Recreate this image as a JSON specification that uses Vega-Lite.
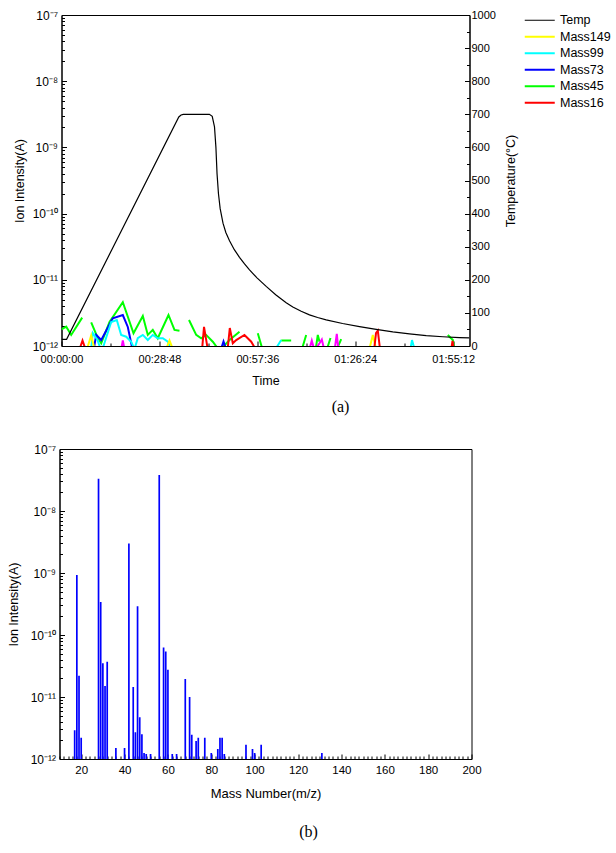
{
  "$schema": "https://vega.github.io/schema/vega-lite/v6.json",
  "padding": {"left": 6.5, "top": 8, "right": 5, "bottom": 5},
  "bounds": "flush",
  "center": true,
  "spacing": 103,
  "resolve": {"legend": {"color": "independent"}},
  "config": {
    "font": "Liberation Sans",
    "view": {"stroke": "black", "strokeWidth": 1},
    "axis": {"grid": false, "domainColor": "black", "tickColor": "black", "labelColor": "black", "titleColor": "black", "labelFont": "Liberation Sans", "titleFont": "Liberation Sans", "labelFontSize": 11, "titleFontSize": 12.5, "titleFontWeight": "normal", "labelOverlap": false, "labelFlush": false, "domainWidth": 1, "tickWidth": 1}
  },
  "datasets": {
    "masses": [
      {"s": "Mass45", "t": 0, "v": 1.79e-12}, {"s": "Mass45", "t": 83, "v": 1.96e-12}, {"s": "Mass45", "t": 171, "v": 1.47e-12}, {"s": "Mass45", "t": 365, "v": 2.68e-12}, {"s": "Mass45", "t": 430, "v": null},
      {"s": "Mass45", "t": 524, "v": 2.28e-12}, {"s": "Mass45", "t": 630, "v": 1.38e-12}, {"s": "Mass45", "t": 701, "v": 1.1e-12}, {"s": "Mass45", "t": 847, "v": 2.3e-12}, {"s": "Mass45", "t": 1082, "v": 4.6e-12}, {"s": "Mass45", "t": 1271, "v": 1.56e-12}, {"s": "Mass45", "t": 1435, "v": 2.84e-12}, {"s": "Mass45", "t": 1523, "v": 1.47e-12}, {"s": "Mass45", "t": 1611, "v": 1.75e-12}, {"s": "Mass45", "t": 1699, "v": 1.31e-12}, {"s": "Mass45", "t": 1888, "v": 2.94e-12}, {"s": "Mass45", "t": 1994, "v": 1.75e-12}, {"s": "Mass45", "t": 2082, "v": 1.7e-12}, {"s": "Mass45", "t": 2150, "v": null},
      {"s": "Mass45", "t": 2250, "v": 2.47e-12}, {"s": "Mass45", "t": 2377, "v": 1.47e-12}, {"s": "Mass45", "t": 2465, "v": 1.31e-12}, {"s": "Mass45", "t": 2553, "v": 1.47e-12}, {"s": "Mass45", "t": 2670, "v": 1.16e-12}, {"s": "Mass45", "t": 2788, "v": 0.85e-12}, {"s": "Mass45", "t": 2965, "v": 1.23e-12}, {"s": "Mass45", "t": 3141, "v": 1.64e-12}, {"s": "Mass45", "t": 3200, "v": null},
      {"s": "Mass45", "t": 3464, "v": 1.56e-12}, {"s": "Mass45", "t": 3553, "v": 0.85e-12}, {"s": "Mass45", "t": 3700, "v": null},
      {"s": "Mass45", "t": 3877, "v": 1.21e-12}, {"s": "Mass45", "t": 4053, "v": 1.21e-12}, {"s": "Mass45", "t": 4150, "v": null},
      {"s": "Mass45", "t": 4235, "v": 0.85e-12}, {"s": "Mass45", "t": 4318, "v": 1.47e-12}, {"s": "Mass45", "t": 4400, "v": null},
      {"s": "Mass45", "t": 4482, "v": 0.85e-12}, {"s": "Mass45", "t": 4523, "v": 1.47e-12}, {"s": "Mass45", "t": 4553, "v": 1.16e-12}, {"s": "Mass45", "t": 4600, "v": null},
      {"s": "Mass45", "t": 4676, "v": 0.85e-12}, {"s": "Mass45", "t": 4747, "v": 1.32e-12}, {"s": "Mass45", "t": 4800, "v": null},
      {"s": "Mass45", "t": 4847, "v": 0.85e-12}, {"s": "Mass45", "t": 4936, "v": 1.27e-12}, {"s": "Mass45", "t": 5000, "v": null},
      {"s": "Mass45", "t": 6817, "v": 1.47e-12}, {"s": "Mass45", "t": 6906, "v": 1.23e-12}, {"s": "Mass45", "t": 6935, "v": 0.85e-12},

      {"s": "Mass73", "t": 565, "v": 0.85e-12}, {"s": "Mass73", "t": 612, "v": 1.47e-12}, {"s": "Mass73", "t": 701, "v": 1.23e-12}, {"s": "Mass73", "t": 905, "v": 2.62e-12}, {"s": "Mass73", "t": 1082, "v": 2.94e-12}, {"s": "Mass73", "t": 1170, "v": 1.94e-12}, {"s": "Mass73", "t": 1258, "v": 0.85e-12}, {"s": "Mass73", "t": 1350, "v": null},
      {"s": "Mass73", "t": 2806, "v": 0.85e-12}, {"s": "Mass73", "t": 2859, "v": 1.17e-12}, {"s": "Mass73", "t": 2912, "v": 0.85e-12},

      {"s": "Mass99", "t": 520, "v": 0.85e-12}, {"s": "Mass99", "t": 552, "v": 1.57e-12}, {"s": "Mass99", "t": 635, "v": 1.23e-12}, {"s": "Mass99", "t": 701, "v": 0.85e-12}, {"s": "Mass99", "t": 741, "v": 1.0e-12}, {"s": "Mass99", "t": 877, "v": 2.3e-12}, {"s": "Mass99", "t": 976, "v": 2.47e-12}, {"s": "Mass99", "t": 1053, "v": 1.47e-12}, {"s": "Mass99", "t": 1142, "v": 1.38e-12}, {"s": "Mass99", "t": 1230, "v": 1.16e-12}, {"s": "Mass99", "t": 1288, "v": 0.9e-12}, {"s": "Mass99", "t": 1346, "v": 1.31e-12}, {"s": "Mass99", "t": 1435, "v": 1.47e-12}, {"s": "Mass99", "t": 1523, "v": 1.23e-12}, {"s": "Mass99", "t": 1611, "v": 1.47e-12}, {"s": "Mass99", "t": 1699, "v": 1.31e-12}, {"s": "Mass99", "t": 1788, "v": 1.31e-12}, {"s": "Mass99", "t": 1876, "v": 1.16e-12}, {"s": "Mass99", "t": 1941, "v": 0.85e-12}, {"s": "Mass99", "t": 2100, "v": null},
      {"s": "Mass99", "t": 3759, "v": 0.85e-12}, {"s": "Mass99", "t": 3877, "v": 1.23e-12}, {"s": "Mass99", "t": 3950, "v": null},
      {"s": "Mass99", "t": 6153, "v": 0.85e-12}, {"s": "Mass99", "t": 6185, "v": 1.23e-12}, {"s": "Mass99", "t": 6238, "v": 0.85e-12},

      {"s": "Mass149", "t": 441, "v": 0.85e-12}, {"s": "Mass149", "t": 524, "v": 1.44e-12}, {"s": "Mass149", "t": 591, "v": 0.85e-12}, {"s": "Mass149", "t": 700, "v": null},
      {"s": "Mass149", "t": 1835, "v": 0.85e-12}, {"s": "Mass149", "t": 1906, "v": 1.21e-12}, {"s": "Mass149", "t": 1976, "v": 0.85e-12}, {"s": "Mass149", "t": 2100, "v": null},
      {"s": "Mass149", "t": 5426, "v": 0.85e-12}, {"s": "Mass149", "t": 5494, "v": 1.47e-12}, {"s": "Mass149", "t": 5559, "v": 0.85e-12},

      {"s": "Mass16", "t": 309, "v": 0.85e-12}, {"s": "Mass16", "t": 371, "v": 1.21e-12}, {"s": "Mass16", "t": 432, "v": 0.85e-12}, {"s": "Mass16", "t": 500, "v": null},
      {"s": "Mass16", "t": 2479, "v": 0.85e-12}, {"s": "Mass16", "t": 2515, "v": 1.94e-12}, {"s": "Mass16", "t": 2585, "v": 0.85e-12}, {"s": "Mass16", "t": 2700, "v": null},
      {"s": "Mass16", "t": 2929, "v": 0.85e-12}, {"s": "Mass16", "t": 2970, "v": 1.87e-12}, {"s": "Mass16", "t": 3023, "v": 1.1e-12}, {"s": "Mass16", "t": 3083, "v": 1.23e-12}, {"s": "Mass16", "t": 3229, "v": 1.47e-12}, {"s": "Mass16", "t": 3348, "v": 1.16e-12}, {"s": "Mass16", "t": 3441, "v": 0.85e-12}, {"s": "Mass16", "t": 3500, "v": null},
      {"s": "Mass16", "t": 5515, "v": 0.85e-12}, {"s": "Mass16", "t": 5550, "v": 1.57e-12}, {"s": "Mass16", "t": 5582, "v": 1.71e-12}, {"s": "Mass16", "t": 5624, "v": 0.85e-12}, {"s": "Mass16", "t": 5700, "v": null},
      {"s": "Mass16", "t": 6874, "v": 0.85e-12}, {"s": "Mass16", "t": 6900, "v": 1.19e-12}, {"s": "Mass16", "t": 6926, "v": 0.85e-12},

      {"s": "Other", "t": 1050, "v": 0.85e-12}, {"s": "Other", "t": 1082, "v": 1.21e-12}, {"s": "Other", "t": 1117, "v": 0.85e-12}, {"s": "Other", "t": 1200, "v": null},
      {"s": "Other", "t": 4368, "v": 0.85e-12}, {"s": "Other", "t": 4417, "v": 1.21e-12}, {"s": "Other", "t": 4465, "v": 0.85e-12}, {"s": "Other", "t": 4553, "v": 1.1e-12}, {"s": "Other", "t": 4594, "v": 1.25e-12}, {"s": "Other", "t": 4641, "v": 0.85e-12}, {"s": "Other", "t": 4818, "v": 0.85e-12}, {"s": "Other", "t": 4858, "v": 1.52e-12}, {"s": "Other", "t": 4888, "v": 0.85e-12}
    ],
    "temp": [
      {"s": "Temp", "t": 0, "temp": 20}, {"s": "Temp", "t": 90, "temp": 20}, {"s": "Temp", "t": 2070, "temp": 692}, {"s": "Temp", "t": 2110, "temp": 698}, {"s": "Temp", "t": 2150, "temp": 700}, {"s": "Temp", "t": 2610, "temp": 700}, {"s": "Temp", "t": 2660, "temp": 694}, {"s": "Temp", "t": 2700, "temp": 662}, {"s": "Temp", "t": 2725, "temp": 600}, {"s": "Temp", "t": 2745, "temp": 520}, {"s": "Temp", "t": 2770, "temp": 460}, {"s": "Temp", "t": 2800, "temp": 415}, {"s": "Temp", "t": 2850, "temp": 371}, {"s": "Temp", "t": 2900, "temp": 343}, {"s": "Temp", "t": 2965, "temp": 318}, {"s": "Temp", "t": 3050, "temp": 291}, {"s": "Temp", "t": 3141, "temp": 268}, {"s": "Temp", "t": 3230, "temp": 248}, {"s": "Temp", "t": 3318, "temp": 230}, {"s": "Temp", "t": 3450, "temp": 206}, {"s": "Temp", "t": 3612, "temp": 180}, {"s": "Temp", "t": 3780, "temp": 155}, {"s": "Temp", "t": 3965, "temp": 131}, {"s": "Temp", "t": 4082, "temp": 118}, {"s": "Temp", "t": 4230, "temp": 105}, {"s": "Temp", "t": 4376, "temp": 94}, {"s": "Temp", "t": 4520, "temp": 86}, {"s": "Temp", "t": 4671, "temp": 79}, {"s": "Temp", "t": 4960, "temp": 68}, {"s": "Temp", "t": 5259, "temp": 58.5}, {"s": "Temp", "t": 5553, "temp": 50}, {"s": "Temp", "t": 5847, "temp": 42.5}, {"s": "Temp", "t": 6140, "temp": 36.5}, {"s": "Temp", "t": 6436, "temp": 31.5}, {"s": "Temp", "t": 6730, "temp": 28}, {"s": "Temp", "t": 7023, "temp": 25.5}, {"s": "Temp", "t": 7200, "temp": 24.5}
    ],
    "spectrum": [
      {"m": 17, "v": 2.9e-12}, {"m": 18, "v": 9.3e-10}, {"m": 19, "v": 2.2e-11}, {"m": 20, "v": 2.2e-12},
      {"m": 28, "v": 3.3e-8}, {"m": 29, "v": 3.4e-10}, {"m": 30, "v": 3.5e-11}, {"m": 31, "v": 1.5e-11}, {"m": 32, "v": 3.7e-11},
      {"m": 36, "v": 1.5e-12}, {"m": 40, "v": 1.5e-12}, {"m": 42, "v": 3.0e-9}, {"m": 44, "v": 1.45e-11}, {"m": 45, "v": 2.7e-12}, {"m": 46, "v": 2.9e-10}, {"m": 47, "v": 4.7e-12}, {"m": 48, "v": 2.5e-12}, {"m": 49, "v": 1.25e-12}, {"m": 50, "v": 1.2e-12}, {"m": 52, "v": 1.2e-12},
      {"m": 56, "v": 3.8e-8}, {"m": 58, "v": 6.3e-11}, {"m": 59, "v": 5.4e-11}, {"m": 60, "v": 2.75e-11}, {"m": 62, "v": 1.2e-12}, {"m": 64, "v": 1.2e-12},
      {"m": 68, "v": 1.95e-11}, {"m": 70, "v": 1.0e-11}, {"m": 71, "v": 2.45e-12}, {"m": 73, "v": 1.95e-12}, {"m": 74, "v": 2.2e-12}, {"m": 77, "v": 2.2e-12}, {"m": 80, "v": 1.25e-12},
      {"m": 83, "v": 1.45e-12}, {"m": 84, "v": 2.2e-12}, {"m": 85, "v": 2.2e-12}, {"m": 86, "v": 1.2e-12},
      {"m": 96, "v": 1.7e-12}, {"m": 99, "v": 1.45e-12}, {"m": 100, "v": 1.25e-12}, {"m": 103, "v": 1.7e-12}, {"m": 131, "v": 1.25e-12}
    ]
  },
  "vconcat": [
    {
      "width": 408,
      "height": 331,
      "title": {"text": "(a)", "orient": "bottom", "anchor": "middle", "frame": "group", "dx": 75, "offset": 12, "font": "Liberation Serif", "fontSize": 16, "fontWeight": "normal", "color": "black"},
      "layer": [
        {
          "data": {"name": "masses"},
          "mark": {"type": "line", "strokeWidth": 2, "clip": true},
          "encoding": {
            "x": {"field": "t", "type": "quantitative", "scale": {"domain": [0, 7200], "nice": false, "zero": false},
              "axis": {"title": "Time", "values": [0, 864, 1728, 2592, 3456, 4320, 5184, 6048, 6912],
                "labelExpr": "datum.value % 1728 == 0 ? utcFormat(datum.value * 1000, '%H:%M:%S') : ''",
                "tickSize": {"condition": {"test": "datum.value % 1728 == 0", "value": -5}, "value": -3},
                "labelPadding": 12.5, "titlePadding": 8}},
            "y": {"field": "v", "type": "quantitative", "scale": {"type": "log", "domain": [1e-12, 1e-7], "nice": false},
              "axis": {"title": "Ion Intensity(A)", "orient": "left", "labelFontSize": 12,
                "values": [1e-12, 2e-12, 3e-12, 4e-12, 5e-12, 6e-12, 7e-12, 8e-12, 9e-12, 1e-11, 2e-11, 3e-11, 4e-11, 5e-11, 6e-11, 7e-11, 8e-11, 9e-11, 1e-10, 2e-10, 3e-10, 4e-10, 5e-10, 6e-10, 7e-10, 8e-10, 9e-10, 1e-9, 2e-9, 3e-9, 4e-9, 5e-9, 6e-9, 7e-9, 8e-9, 9e-9, 1e-8, 2e-8, 3e-8, 4e-8, 5e-8, 6e-8, 7e-8, 8e-8, 9e-8, 1e-7],
                "labelExpr": "abs(log(datum.value)/LN10 - round(log(datum.value)/LN10)) > 0.01 ? '' : ['10⁻¹²','10⁻¹¹','10⁻¹⁰','10⁻⁹','10⁻⁸','10⁻⁷'][round(log(datum.value)/LN10) + 12]",
                "tickSize": {"condition": {"test": "abs(log(datum.value)/LN10 - round(log(datum.value)/LN10)) < 0.01", "value": -5}, "value": -3},
                "labelPadding": 9, "titlePadding": 6}},
            "color": {"field": "s", "type": "nominal",
              "scale": {"domain": ["Temp", "Mass149", "Mass99", "Mass73", "Mass45", "Mass16", "Other"], "range": ["#000000", "#ffff00", "#00ffff", "#0000ff", "#00ff00", "#ff0000", "#ff00ff"]},
              "legend": {"orient": "none", "legendX": 472, "legendY": -1, "title": null, "padding": 0,
                "values": ["Temp", "Mass149", "Mass99", "Mass73", "Mass45", "Mass16"],
                "symbolType": "M-3,0L3,0", "symbolSize": 100, "symbolStrokeWidth": 2, "labelOffset": 14, "rowPadding": 3.5,
                "labelFontSize": 12.5, "labelFont": "Liberation Sans", "labelColor": "black",
                "encode": {"symbols": {"update": {"strokeWidth": {"signal": "datum.value === 'Temp' ? 1 : 2"}}}}}}
          }
        },
        {
          "data": {"name": "temp"},
          "mark": {"type": "line", "strokeWidth": 1.2, "clip": true},
          "encoding": {
            "x": {"field": "t", "type": "quantitative"},
            "y": {"field": "temp", "type": "quantitative", "scale": {"domain": [0, 1000], "nice": false, "zero": false},
              "axis": {"title": "Temperature(°C)", "orient": "right", "titleAngle": 270, "format": "d",
                "values": [0, 50, 100, 150, 200, 250, 300, 350, 400, 450, 500, 550, 600, 650, 700, 750, 800, 850, 900, 950, 1000],
                "labelExpr": "datum.value % 100 == 0 ? datum.label : ''",
                "tickSize": {"condition": {"test": "datum.value % 100 == 0", "value": -5}, "value": -3},
                "labelPadding": 6.5, "titlePadding": 22}},
            "color": {"field": "s", "type": "nominal"}
          }
        }
      ],
      "resolve": {"scale": {"y": "independent"}}
    },
    {
      "width": 412,
      "height": 310,
      "title": {"text": "(b)", "orient": "bottom", "anchor": "middle", "frame": "group", "dx": 43, "offset": 23, "font": "Liberation Serif", "fontSize": 16, "fontWeight": "normal", "color": "black"},
      "data": {"name": "spectrum"},
      "mark": {"type": "rule", "strokeWidth": 1.7, "color": "#0000ff", "clip": true},
      "encoding": {
        "x": {"field": "m", "type": "quantitative", "scale": {"domain": [10, 200], "nice": false, "zero": false},
          "axis": {"title": "Mass Number(m/z)", "labelFontSize": 11.5, "titleFontSize": 13,
            "values": [10, 12, 14, 16, 18, 20, 22, 24, 26, 28, 30, 32, 34, 36, 38, 40, 42, 44, 46, 48, 50, 52, 54, 56, 58, 60, 62, 64, 66, 68, 70, 72, 74, 76, 78, 80, 82, 84, 86, 88, 90, 92, 94, 96, 98, 100, 102, 104, 106, 108, 110, 112, 114, 116, 118, 120, 122, 124, 126, 128, 130, 132, 134, 136, 138, 140, 142, 144, 146, 148, 150, 152, 154, 156, 158, 160, 162, 164, 166, 168, 170, 172, 174, 176, 178, 180, 182, 184, 186, 188, 190, 192, 194, 196, 198, 200],
            "labelExpr": "datum.value % 20 == 0 ? datum.label : ''",
            "tickSize": {"condition": {"test": "datum.value % 20 == 0", "value": -5}, "value": -3},
            "labelPadding": 10, "titlePadding": 10}},
        "y": {"field": "v", "type": "quantitative", "scale": {"type": "log", "domain": [1e-12, 1e-7], "nice": false},
          "axis": {"title": "Ion Intensity(A)", "labelFontSize": 12,
            "values": [1e-12, 2e-12, 3e-12, 4e-12, 5e-12, 6e-12, 7e-12, 8e-12, 9e-12, 1e-11, 2e-11, 3e-11, 4e-11, 5e-11, 6e-11, 7e-11, 8e-11, 9e-11, 1e-10, 2e-10, 3e-10, 4e-10, 5e-10, 6e-10, 7e-10, 8e-10, 9e-10, 1e-9, 2e-9, 3e-9, 4e-9, 5e-9, 6e-9, 7e-9, 8e-9, 9e-9, 1e-8, 2e-8, 3e-8, 4e-8, 5e-8, 6e-8, 7e-8, 8e-8, 9e-8, 1e-7],
            "labelExpr": "abs(log(datum.value)/LN10 - round(log(datum.value)/LN10)) > 0.01 ? '' : ['10⁻¹²','10⁻¹¹','10⁻¹⁰','10⁻⁹','10⁻⁸','10⁻⁷'][round(log(datum.value)/LN10) + 12]",
            "tickSize": {"condition": {"test": "abs(log(datum.value)/LN10 - round(log(datum.value)/LN10)) < 0.01", "value": -5}, "value": -3},
            "labelPadding": 9, "titlePadding": 10}},
        "y2": {"datum": 1e-12}
      }
    }
  ]
}
